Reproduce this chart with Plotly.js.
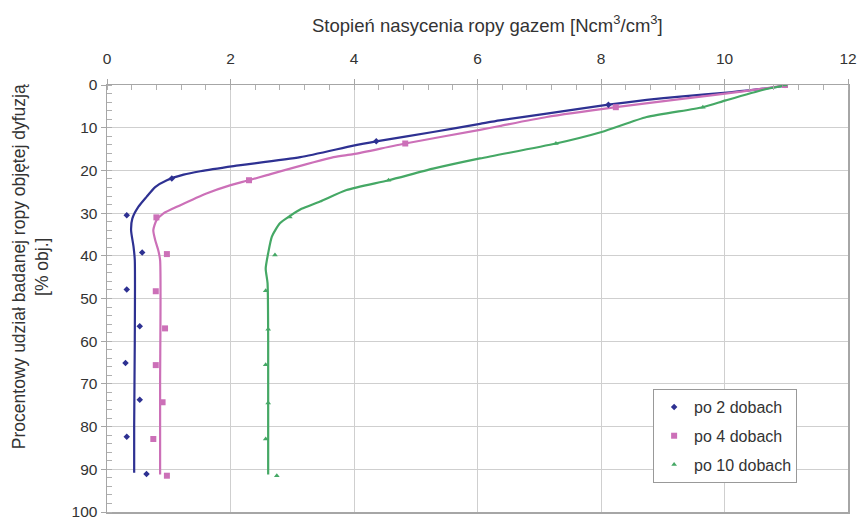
<!DOCTYPE html>
<html>
<head>
<meta charset="utf-8">
<script src="https://cdn.plot.ly/plotly-3.0.1.min.js"></script>
<style>html,body{margin:0;padding:0;background:#fff;}#chart{width:859px;height:517px;}</style>
</head>
<body>
<div id="chart"></div>
<script>
// Series names
const seriesNames = ["po 2 dobach", "po 4 dobach", "po 10 dobach"];

// Measured points (x = saturation, y = percentage)
const pts2x = [10.98, 8.12, 4.36, 1.05, 0.32, 0.57, 0.32, 0.53, 0.30, 0.53, 0.32, 0.64];
const pts2y = [0, 4.6, 13.2, 21.9, 30.5, 39.2, 47.9, 56.5, 65.1, 73.7, 82.4, 91.1];
const pts4x = [10.98, 8.24, 4.83, 2.30, 0.80, 0.97, 0.79, 0.94, 0.79, 0.90, 0.75, 0.97];
const pts4y = [0, 5.2, 13.7, 22.3, 31.0, 39.6, 48.3, 57.0, 65.6, 74.3, 82.9, 91.5];
const pts10x = [10.98, 9.65, 7.27, 4.56, 2.96, 2.72, 2.57, 2.61, 2.57, 2.61, 2.57, 2.75];
const pts10y = [0, 5.2, 13.7, 22.3, 30.9, 39.8, 48.2, 57.2, 65.5, 74.5, 82.9, 91.5];

// Smoothed curves
const line2x = [10.98, 10.90, 10.09, 9.28, 8.74, 8.12, 7.12, 6.36, 6.04, 5.28, 4.36, 3.99, 3.13, 2.05, 1.51, 1.24, 0.97, 0.78, 0.64, 0.51, 0.41, 0.39, 0.43, 0.45, 0.45, 0.44, 0.44];
const line2y = [0.1, 0.35, 1.7, 2.7, 3.5, 4.6, 6.7, 8.3, 9.1, 11.0, 13.2, 14.2, 16.9, 19.0, 20.2, 21.0, 22.3, 23.9, 26.2, 28.5, 31.3, 34.0, 37.9, 41.0, 60.0, 80.0, 90.8];
const line4x = [10.98, 10.30, 9.28, 8.24, 7.12, 6.36, 6.04, 4.83, 3.99, 3.67, 2.59, 2.30, 1.99, 1.61, 1.18, 0.91, 0.80, 0.75, 0.78, 0.83, 0.86, 0.86, 0.86];
const line4y = [0.1, 1.5, 3.3, 5.2, 7.5, 9.6, 10.5, 13.7, 16.2, 16.9, 21.1, 22.3, 23.5, 25.4, 28.2, 30.1, 31.7, 34.0, 36.3, 38.7, 41.0, 70.0, 91.2];
const line10x = [10.98, 10.63, 10.02, 9.65, 8.74, 8.01, 7.27, 6.04, 5.28, 4.56, 3.88, 3.45, 3.15, 2.96, 2.80, 2.67, 2.61, 2.57, 2.60, 2.61, 2.61];
const line10y = [0.1, 1.1, 3.6, 5.2, 7.5, 11.0, 13.7, 17.2, 19.6, 22.3, 24.6, 27.3, 29.0, 30.7, 32.4, 35.5, 39.4, 43.0, 46.4, 60.0, 91.2];

const xTickVals = [0, 2, 4, 6, 8, 10, 12];
const yTickVals = [0, 10, 20, 30, 40, 50, 60, 70, 80, 90, 100];

const colors = ["#2e3192", "#cc70b8", "#45a865"];
const FONT = "Liberation Sans, Arial, sans-serif";

const lineStyle = (c) => ({color: c, width: 2.2, shape: "spline", smoothing: 0.6});

const traces = [
  {x: line2x, y: line2y, mode: "lines", line: lineStyle(colors[0]), showlegend: false, hoverinfo: "skip"},
  {x: line4x, y: line4y, mode: "lines", line: lineStyle(colors[1]), showlegend: false, hoverinfo: "skip"},
  {x: line10x, y: line10y, mode: "lines", line: lineStyle(colors[2]), showlegend: false, hoverinfo: "skip"},
  {x: pts2x, y: pts2y, mode: "markers", name: seriesNames[0], legendgroup: "a", marker: {symbol: "diamond", size: 5, color: colors[0]}},
  {x: pts4x, y: pts4y, mode: "markers", name: seriesNames[1], legendgroup: "b", marker: {symbol: "square", size: 6, color: colors[1]}},
  {x: pts10x, y: pts10y, mode: "markers", name: seriesNames[2], legendgroup: "c", marker: {symbol: "triangle-up", size: 5, color: colors[2]}}
];

const axisCommon = {
  showgrid: true, gridcolor: "#cfcfcf", gridwidth: 1,
  showline: true, linecolor: "#a6a6a6", linewidth: 1.5, mirror: true,
  ticks: "outside", ticklen: 5, tickcolor: "#a6a6a6",
  zeroline: false,
  ticklabeloverflow: "allow",
  tickfont: {family: FONT, size: 15.5, color: "#333"}
};

const layout = {
  width: 859, height: 517,
  margin: {l: 107, r: 11, t: 85, b: 5},
  paper_bgcolor: "#fff", plot_bgcolor: "#fff",
  font: {family: FONT, color: "#333"},
  xaxis: Object.assign({}, axisCommon, {
    side: "top", range: [0, 12], tickvals: xTickVals, ticklabelstandoff: 8,
    minor: {dtick: 0.4, ticks: "inside", ticklen: 5, tickcolor: "#b0b0b0", showgrid: false}
  }),
  yaxis: Object.assign({}, axisCommon, {
    range: [100, 0], tickvals: yTickVals,
    minor: {dtick: 2, ticks: "inside", ticklen: 5, tickcolor: "#b0b0b0", showgrid: false}
  }),
  legend: {
    x: 0.737, y: 0.288, xanchor: "left", yanchor: "top",
    bgcolor: "#fff", bordercolor: "#999", borderwidth: 1,
    tracegroupgap: 5, itemwidth: 30,
    font: {family: FONT, size: 16, color: "#333"}
  },
  annotations: [
    {text: "Stopień nasycenia ropy gazem [Ncm<sup>3</sup>/cm<sup>3</sup>]", xref: "paper", yref: "paper",
     x: 0.514, y: 1.144, xanchor: "center", yanchor: "middle", showarrow: false,
     font: {family: FONT, size: 18.5, color: "#333"}},
    {text: "Procentowy udział badanej ropy objętej dyfuzją<br>[% obj.]", xref: "paper", yref: "paper",
     x: -0.103, y: 0.575, xanchor: "center", yanchor: "middle", textangle: -90, showarrow: false,
     font: {family: FONT, size: 17.5, color: "#333"}}
  ]
};

Plotly.newPlot("chart", traces, layout, {displayModeBar: false, staticPlot: true});
</script>
</body>
</html>
